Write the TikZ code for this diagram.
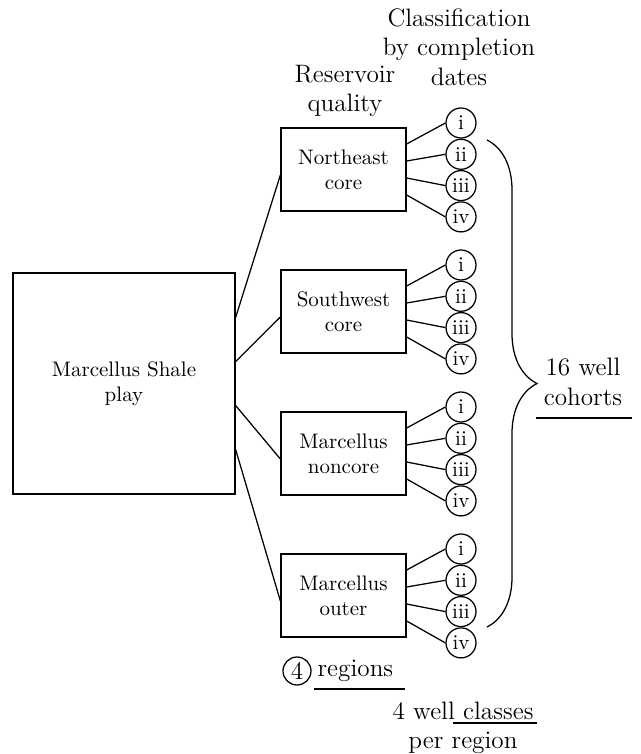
\documentclass[tikz,border=0pt]{standalone}
\usetikzlibrary{calc,decorations.pathreplacing}

% one pixel of the layout
\newdimen\px
\px=0.476pt

\tikzset{
  region/.style={draw, minimum width=125\px, minimum height=83\px, align=center, inner sep=0pt},
  cls/.style={draw, circle, minimum size=30\px, inner sep=0pt},
  head/.style={align=center, font=\large}
}

\begin{document}
\begin{tikzpicture}[x=0.476pt,y=-0.476pt,line width=0.6pt]

\useasboundingbox (0,0) rectangle (641,754);

% Headings
\node[head] (hres) at (345,91) {Reservoir\\quality};
\node[head] (hcls) at (459,47) {Classification\\by completion\\dates};

% The play
\node[draw, minimum width=222\px, minimum height=221\px, align=center] (play) at (124,383.5) {Marcellus Shale\\play};

% Regions and their well classes
\foreach \name/\txt/\dy [count=\k from 0] in {ne/{Northeast\\core}/-66, sw/{Southwest\\core}/-22, nc/{Marcellus\\noncore}/22, ou/{Marcellus\\outer}/66} {
    \pgfmathsetmacro{\yc}{169.5+142*\k}
    \node[region] (\name) at (343.5,\yc) {\txt};
    \draw ($(play.east)+(0,\dy)$) -- ($(\name.west)+(0,5.5)$);
    \foreach \lab/\ey [count=\j from 0] in {i/-25.5, ii/-8.5, iii/8.5, iv/25.5} {
        \pgfmathsetmacro{\yy}{123+142*\k+31.3*\j}
        \node[cls] (\name-\j) at (461,\yy) {\lab};
        \draw ($(\name.east)+(0,\ey)$) -- (\name-\j.west);
    }
}

% Brace over all cohorts
\coordinate (btop) at (487,140);
\coordinate (bbot) at (487,627);
\draw[decorate, decoration={brace, amplitude=50\px}] (btop) -- (bbot);
\node[head] (cohorts) at (583,382) {16 well\\cohorts};
\draw (536,418) -- (632,418);

% Counts below
\node[draw, circle, minimum size=28\px, inner sep=0pt, font=\large] (four) at (297,671) {4};
\node[font=\large, anchor=west, inner sep=0pt] (regions) at (317,671) {regions};
\draw (314,689) -- (405,689);

\node[head] (classes) at (463,728) {4 well classes\\per region};
\draw (453,723) -- (537,723);

\end{tikzpicture}
\end{document}
